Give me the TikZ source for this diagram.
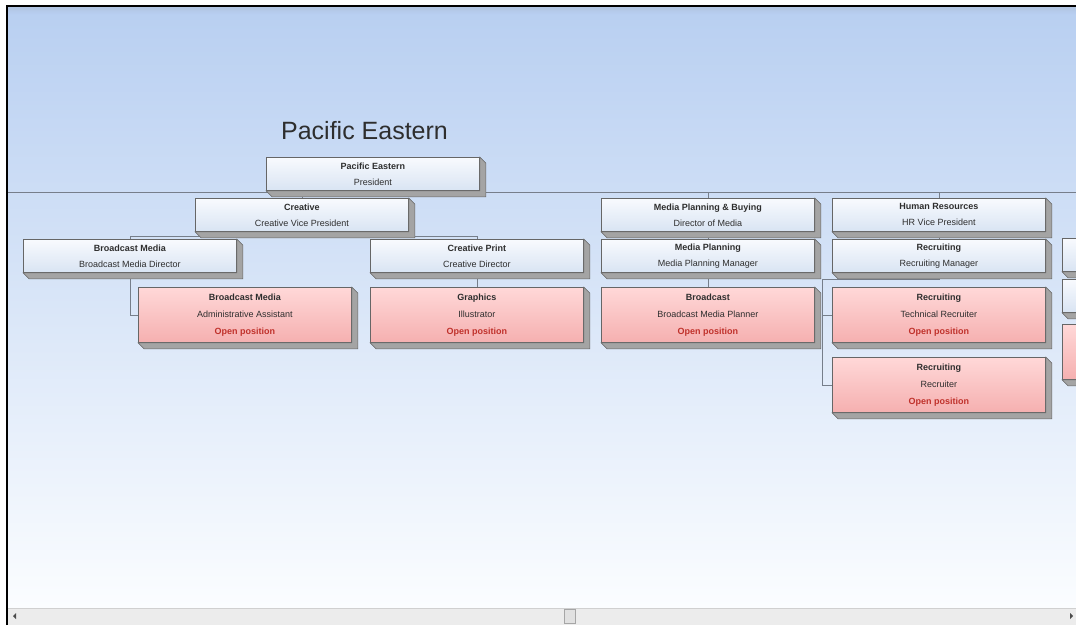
\documentclass[tikz,border=0pt]{standalone}
\usepackage{fontspec}
\setmainfont{Liberation Sans}
\usetikzlibrary{positioning}

\definecolor{bgtop}{HTML}{B8CFF1}
\definecolor{bgbot}{HTML}{FBFDFF}
\definecolor{edge}{HTML}{666666}
\definecolor{side}{HTML}{A4A4A4}
\definecolor{wtop}{HTML}{F8FAFE}
\definecolor{wbot}{HTML}{D9E4F3}
\definecolor{ptop}{HTML}{FFD8D8}
\definecolor{pbot}{HTML}{F5B0B0}
\definecolor{openred}{HTML}{C0312B}
\definecolor{wirecol}{HTML}{767E8A}
\definecolor{ink}{HTML}{2E2E2E}
\definecolor{barfill}{HTML}{ECECEC}
\definecolor{barline}{HTML}{D0D0D0}

\pgfdeclarelayer{back}
\pgfdeclarelayer{mid}
\pgfsetlayers{back,mid,main}

\tikzset{
  face/.style={draw=edge, line width=0.8pt, minimum width=213pt, inner sep=0pt,
    anchor=north west, align=center, font=\fontsize{9}{16}\selectfont, text=ink},
  wbox/.style={face, minimum height=33pt, top color=wtop, bottom color=wbot},
  pbox/.style={face, minimum height=55pt, top color=ptop, bottom color=pbot,
    font=\fontsize{9}{17}\selectfont},
  wire/.style={draw=wirecol, line width=0.8pt},
  sideface/.style={fill=side, draw=edge, line width=0.6pt},
}

% right and bottom faces of an extruded box
\newcommand\extrude[1]{%
  \filldraw[sideface] (#1.north east) -- ([shift={(6,6)}]#1.north east)
    -- ([shift={(6,6)}]#1.south east) -- ([shift={(6,6)}]#1.south west)
    -- (#1.south west) -- (#1.south east) -- cycle;}
\newcommand\ttl[1]{\textbf{#1}}
\newcommand\opn{\textcolor{openred}{\textbf{Open position}}}

\begin{document}
\begin{tikzpicture}[x=1pt,y=-1pt]
\useasboundingbox (0,0) rectangle (1076,625);
\clip (0,0) rectangle (1076,625);

% window background
\begin{pgfonlayer}{back}
  \fill[white] (0,0) rectangle (1076,625);
  \shade[top color=bgtop, bottom color=bgbot] (7,6) rectangle (1076,608);
  \shade[top color=bgtop!85!gray, bottom color=bgtop] (7,6) rectangle (1076,14);
\end{pgfonlayer}

% title
\node[font=\fontsize{25}{30}\selectfont, text=ink, anchor=base] (title) at (364.5,139) {Pacific Eastern};

% top level
\node[wbox] (pres) at (266,157) {\ttl{Pacific Eastern}\\President};
\extrude{pres}

% Creative branch
\node[wbox] (creative) at (195,198) {\ttl{Creative}\\Creative Vice President};
\extrude{creative}
\node[wbox] (bmd) at (23,239) {\ttl{Broadcast Media}\\Broadcast Media Director};
\extrude{bmd}
\node[wbox] (cp) at (370,239) {\ttl{Creative Print}\\Creative Director};
\extrude{cp}
\node[pbox] (bma) at (138,287) {\ttl{Broadcast Media}\\Administrative Assistant\\\opn};
\extrude{bma}
\node[pbox] (gr) at (370,287) {\ttl{Graphics}\\Illustrator\\\opn};
\extrude{gr}

% Media branch
\node[wbox] (mpb) at (601,198) {\ttl{Media Planning \& Buying}\\Director of Media};
\extrude{mpb}
\node[wbox] (mp) at (601,239) {\ttl{Media Planning}\\Media Planning Manager};
\extrude{mp}
\node[pbox] (bc) at (601,287) {\ttl{Broadcast}\\Broadcast Media Planner\\\opn};
\extrude{bc}

% HR branch
\node[wbox] (hr) at (832,198) {\ttl{Human Resources}\\HR Vice President};
\extrude{hr}
\node[wbox] (rm) at (832,239) {\ttl{Recruiting}\\Recruiting Manager};
\extrude{rm}
\node[pbox] (tr) at (832,287) {\ttl{Recruiting}\\Technical Recruiter\\\opn};
\extrude{tr}
\node[pbox] (rr) at (832,357) {\ttl{Recruiting}\\Recruiter\\\opn};
\extrude{rr}

% next branch, running off the right edge
\node[wbox] (nx1) at (1062,238) {};
\extrude{nx1}
\node[wbox] (nx2) at (1062,279) {};
\extrude{nx2}
\node[pbox] (nx3) at (1062,324) {};
\extrude{nx3}

% connectors
\coordinate (busL) at (7,192);
\coordinate (busR) at (1076,192);
\coordinate (cbus) at (0,236);
\coordinate (rspine) at (822,279);
\begin{pgfonlayer}{mid}
  \draw[wire] (busL) -- (busR);
  \draw[wire] (pres.south) -- (pres.south |- busL);
  \draw[wire] (creative.north) -- (creative.north |- busL);
  \draw[wire] (mpb.north) -- (mpb.north |- busL);
  \draw[wire] (hr.north) -- (hr.north |- busL);
  \draw[wire] (creative.south) -- (creative.south |- cbus);
  \draw[wire] (bmd.north) -- (bmd.north |- cbus) -- (cp.north |- cbus) -- (cp.north);
  \draw[wire] (bmd.south) |- (bma.west);
  \draw[wire] (cp.south) -- (gr.north);
  \draw[wire] (mpb.south) -- (mp.north);
  \draw[wire] (mp.south) -- (bc.north);
  \draw[wire] (hr.south) -- (rm.north);
  \draw[wire] (rm.south) |- (rspine) |- (rr.west);
  \draw[wire] (rspine) |- (tr.west);
\end{pgfonlayer}

% window frame and scroll bar
\fill[barfill] (7,608) rectangle (1076,625);
\draw[barline] (7,608.5) -- (1076,608.5);
\filldraw[fill=barfill!90!gray, draw=gray!70] (564,609) rectangle (575,623);
\fill[gray!60!black] (13,616) -- (16,613) -- (16,619) -- cycle;
\fill[gray!60!black] (1073,616) -- (1070,613) -- (1070,619) -- cycle;
\draw[black, line width=1.3pt] (7,625) -- (7,6) -- (1076,6);
\end{tikzpicture}
\end{document}
